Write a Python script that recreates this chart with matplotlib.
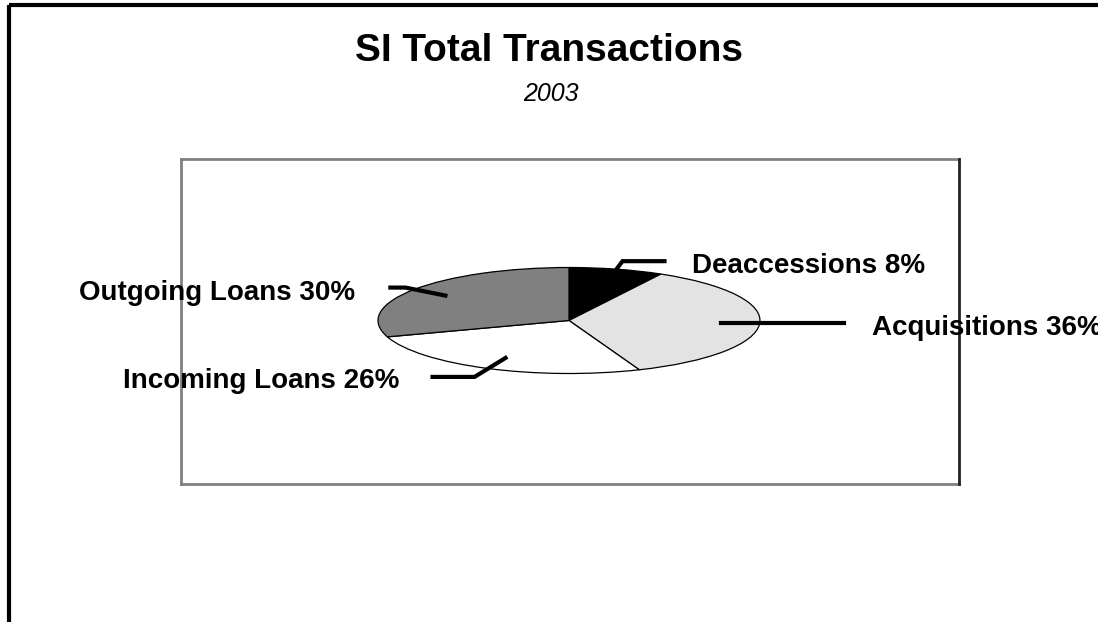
import numpy as np
import matplotlib
matplotlib.use("Agg")
import matplotlib.pyplot as plt

plt.rcParams['font.family'] = ['Liberation Sans', 'DejaVu Sans']

labels = ['Deaccessions', 'Acquisitions', 'Incoming Loans', 'Outgoing Loans']
shares = [8, 36, 26, 30]
colors = ['#000000', '#e3e3e3', '#ffffff', '#808080']

W, H = 1098, 622
fig = plt.figure(figsize=(W / 100, H / 100), dpi=100)

# pie geometry in pixels (flattened ellipse)
cx, cy, rx, ry = 569, 320.5, 191, 53

pax = fig.add_axes([(cx - rx) / W, 1 - (cy + ry) / H, 2 * rx / W, 2 * ry / H])
wedges, _ = pax.pie(shares, colors=colors, startangle=90, counterclock=False,
                    radius=1, wedgeprops=dict(edgecolor='black', linewidth=0.9))
pax.set_aspect('auto')
pax.set_xlim(-1, 1)
pax.set_ylim(-1, 1)
pax.axis('off')

# overlay in pixel coords
ax = fig.add_axes([0, 0, 1, 1])
ax.set_xlim(0, W)
ax.set_ylim(H, 0)
ax.axis('off')

# outer frame (top + left)
ax.plot([9, W], [5, 5], color='black', lw=3, solid_capstyle='butt')
ax.plot([9, 9], [5, H], color='black', lw=3, solid_capstyle='butt')

# plot area box
ax.plot([181, 959], [159, 159], color='#808080', lw=2)
ax.plot([181, 181], [159, 484], color='#808080', lw=2)
ax.plot([181, 959], [484, 484], color='#808080', lw=2)
ax.plot([959, 959], [159, 484], color='#222222', lw=2)

ax.text(549, 51, 'SI Total Transactions', ha='center', va='center',
        fontsize=28, fontweight='bold')
ax.text(551, 94, '2003', ha='center', va='center', fontsize=18, style='italic')

# leader lines: anchor radius, elbow offsets, text position
cum = np.cumsum([0] + shares)
mids = 90 - 360 * (cum[:-1] + np.array(shares) / 2) / 100
anchor_r = [1.0, 0.8, 0.78, 0.8]
elbows = [[(6, -8), (48, -8)],
          [(123, 0), (123, 0)],
          [(-31, 19), (-73, 19)],
          [(-40, -8), (-55, -8)]]
text_off = [(28, 5, 'left'), (28, 5, 'left'), (-33, 4, 'right'), (-35, 5, 'right')]

for lab, s, m, r, el, to in zip(labels, shares, mids, anchor_r, elbows, text_off):
    a = np.deg2rad(m)
    x0 = cx + rx * r * np.cos(a)
    y0 = cy - ry * r * np.sin(a)
    xs = [x0] + [x0 + dx for dx, dy in el]
    ys = [y0] + [y0 + dy for dx, dy in el]
    ax.plot(xs, ys, color='black', lw=3, solid_joinstyle='miter')
    ax.text(xs[-1] + to[0], ys[-1] + to[1], f'{lab} {s}%', ha=to[2], va='center',
            fontsize=20, fontweight='bold')

fig.savefig('out.png', dpi=100)
